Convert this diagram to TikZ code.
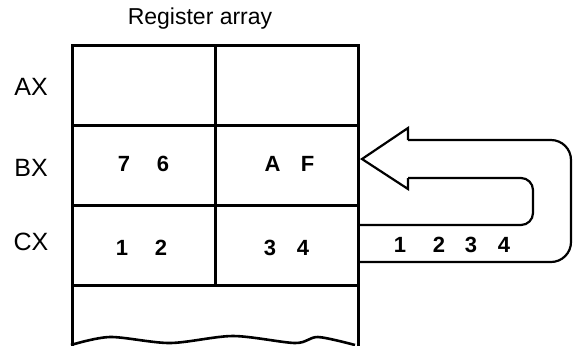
\documentclass[tikz,border=0pt]{standalone}
\usepackage{fontspec}
\setmainfont{Liberation Sans}
\usetikzlibrary{matrix}

\tikzset{
  cell/.style={draw, minimum width=71.5pt, minimum height=40pt},
  reg/.style={font=\fontsize{12.5}{14}\selectfont},
  val/.style={font=\fontsize{11}{13}\selectfont\bfseries},
}

\begin{document}
\begin{tikzpicture}[x=0.5pt, y=-0.5pt, line width=1.3pt]
\useasboundingbox (0,0) rectangle (573,345);
\node [font=\fontsize{11.5}{13}\selectfont] (title) at (200,19) {Register array};
\matrix (m) [matrix of nodes, nodes in empty cells, nodes={cell}, inner sep=0pt,
  row sep=-1.3pt, column sep=-1.3pt, anchor=north west] at (70,43) {
  & \\
  & \\
  & \\
};
% open bottom of the array
\draw ([shift={(0.65pt,0.65pt)}]m-3-1.south west) -- ++(0,80);
\draw ([shift={(-0.65pt,0.65pt)}]m-3-2.south east) -- ++(0,80);
\draw plot [smooth] coordinates {(71,345) (110,337) (170,343) (233,336) (295,343) (318,337) (355,345)};
% register names
\node [reg] (ax) at (31,87) {AX};
\node [reg] (bx) at (31,168) {BX};
\node [reg] (cx) at (31,242) {CX};
% contents
\node [val] (bxhi) at (143.5,164) {7\hspace{13.4pt}6};
\node [val] (bxlo) at (289.5,164) {A\hspace{10.2pt}F};
\node [val] (cxhi) at (141.5,248) {1\hspace{13.4pt}2};
\node [val] (cxlo) at (286.5,248) {3\hspace{10.4pt}4};
\node [val] (bytes) at (452,245) {1\hspace{13.4pt}2\hspace{9.9pt}3\hspace{10.4pt}4};
% copy arrow from CX back into BX
\coordinate (tip) at (362,159);
\draw [line width=1.1pt, rounded corners=10pt] (m-3-2.east |- 0,262) -- (571,262) -- (571,140) -- (408,140);
\draw [line width=1.1pt, rounded corners=6pt] (m-3-2.east |- 0,225) -- (533,225) -- (533,178) -- (408,178);
\draw [line width=1.1pt] (408,140) -- (408,128) -- (tip) -- (408,189) -- (408,178);
\end{tikzpicture}
\end{document}
